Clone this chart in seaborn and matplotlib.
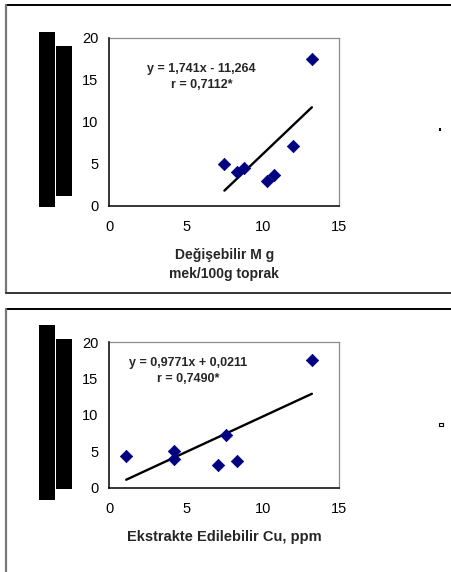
import matplotlib
matplotlib.use("Agg")
import matplotlib.pyplot as plt
from matplotlib.patches import Rectangle
from matplotlib.lines import Line2D
import seaborn as sns
import pandas as pd
import numpy as np

# ---- data ----
mg_x = [7.5, 8.3, 8.8, 10.3, 10.7, 12.0, 13.2]
mg_y = [5.0, 4.0, 4.5, 3.0, 3.6, 7.1, 17.5]
mg_fit = [1.741, -11.264]
mg_eq = ["y = 1,741x - 11,264", "r = 0,7112*"]
mg_xlabel = "Değişebilir M g\nmek/100g toprak"

cu_x = [1.1, 4.2, 4.2, 7.1, 7.6, 8.3, 13.2]
cu_y = [4.4, 5.0, 4.0, 3.1, 7.3, 3.7, 17.5]
cu_fit = [0.9771, 0.0211]
cu_eq = ["y = 0,9771x + 0,0211", "r = 0,7490*"]
cu_xlabel = "Ekstrakte Edilebilir Cu, ppm"

x_ticks = [0, 5, 10, 15]
y_ticks = [0, 5, 10, 15, 20]

W, H = 452, 572
sns.set_style("white")
plt.rcParams['font.family'] = ['Liberation Sans', 'DejaVu Sans']

fig = plt.figure(figsize=(W / 100, H / 100), dpi=100)


def fx(x):
    return x / W


def fy(y):
    return 1 - y / H


def rect(x0, y0, x1, y1, **kw):
    fig.patches.append(Rectangle((fx(x0), fy(y1)), fx(x1) - fx(x0), fy(y0) - fy(y1),
                                 transform=fig.transFigure, figure=fig, **kw))


def hline(x0, x1, y, color, lw=1.2):
    fig.lines.append(Line2D([fx(x0), fx(x1)], [fy(y), fy(y)], transform=fig.transFigure,
                            color=color, lw=lw, figure=fig))


def vline(x, y0, y1, color, lw=1.2):
    fig.lines.append(Line2D([fx(x), fx(x)], [fy(y0), fy(y1)], transform=fig.transFigure,
                            color=color, lw=lw, figure=fig))


# outer frames
hline(6, 460, 4.5, "black", 1.4)
vline(6, 4.5, 292.5, "#777777", 1.6)
hline(6, 460, 292.5, "#333333", 1.4)
hline(6, 460, 308.5, "black", 1.4)
vline(6, 308.5, 580, "#777777", 1.6)


def panel(ax_box, xs, ys, fit, eq, eq_pos, xlabel, label_pad, label_size):
    left, top, right, bottom = ax_box
    ax = fig.add_axes([fx(left), fy(bottom), fx(right) - fx(left), fy(top) - fy(bottom)])
    df = pd.DataFrame({"x": xs, "y": ys})
    sns.scatterplot(data=df, x="x", y="y", ax=ax, marker="D", s=40, color="#000080",
                    edgecolor="#000080", linewidth=0.5, zorder=3)
    lx = np.array([min(xs), max(xs)])
    line_df = pd.DataFrame({"x": lx, "y": fit[0] * lx + fit[1]})
    sns.lineplot(data=line_df, x="x", y="y", ax=ax, color="black", lw=1.7, zorder=2)
    ax.set_xlim(0, 15)
    ax.set_ylim(0, 20)
    ax.set_xticks(x_ticks)
    ax.set_yticks(y_ticks)
    ax.tick_params(axis="both", direction="out", length=3.5, width=1, color="black",
                   labelsize=10.5, labelcolor="black")
    ax.tick_params(axis="x", pad=6.5)
    ax.tick_params(axis="y", pad=4.5)
    for s in ["left", "bottom"]:
        ax.spines[s].set_color("black")
        ax.spines[s].set_linewidth(1.1)
        ax.spines[s].set_zorder(4)
    for s in ["top", "right"]:
        ax.spines[s].set_color("#8c8c8c")
        ax.spines[s].set_linewidth(0.9)
    ax.set_ylabel("")
    ax.set_xlabel(xlabel, fontsize=label_size, fontweight="bold", labelpad=label_pad,
                  linespacing=1.4)
    ax.text(eq_pos[0], eq_pos[1], eq[0], transform=ax.transAxes, ha="center",
            va="center", fontsize=9, fontweight="bold")
    ax.text(eq_pos[0], eq_pos[2], eq[1], transform=ax.transAxes, ha="center",
            va="center", fontsize=9, fontweight="bold")
    return ax


panel((109.3, 37.7, 339.5, 205.7), mg_x, mg_y, mg_fit, mg_eq, (0.40, 0.815, 0.72),
      mg_xlabel, 10.5, 10)
panel((109.3, 342.3, 339.5, 487.7), cu_x, cu_y, cu_fit, cu_eq, (0.343, 0.855, 0.75),
      cu_xlabel, 10.5, 10.5)

# black blocks (rendered axis titles)
rect(39, 32, 55, 207, color="black", lw=0)
rect(56, 46, 72, 196, color="black", lw=0)
rect(39, 325, 55, 500, color="black", lw=0)
rect(56, 339, 72, 489, color="black", lw=0)

# tiny legend remnants
rect(439.5, 127.5, 441.5, 130.5, color="black", lw=0)
rect(439.5, 423, 443, 426, facecolor="white", edgecolor="black", lw=0.8)

fig.savefig("out.png", dpi=100)
